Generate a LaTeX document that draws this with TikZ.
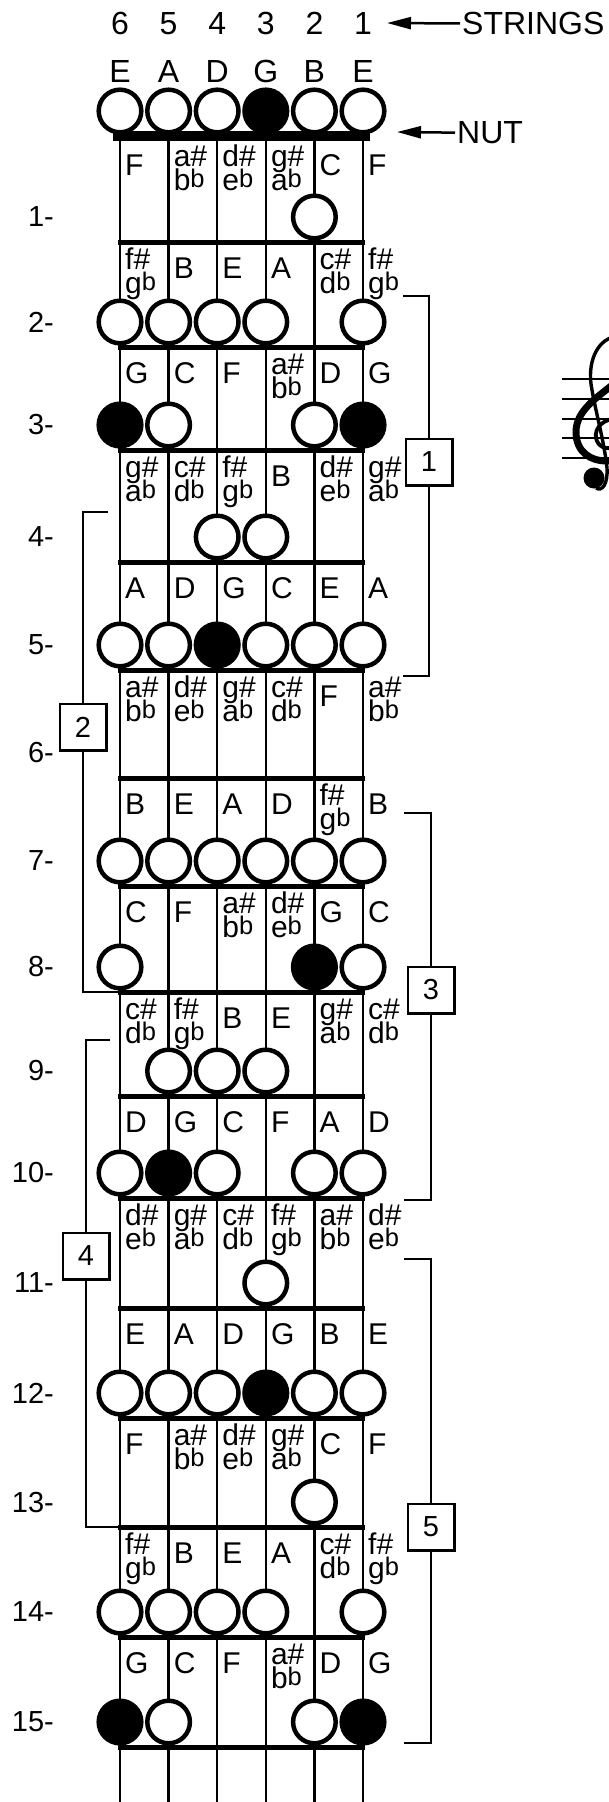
\documentclass[tikz,border=0pt]{standalone}
\usepackage{fontspec}
\setmainfont{Liberation Sans}
\usepackage{graphicx}
\usetikzlibrary{arrows.meta}

\def\fretlist{{136,242,347,450,562,670,778,886,992,1096,1198,1308,1418,1527,1637,1747}}
\newcommand\flatb{\raisebox{3pt}{\scalebox{0.85}{b}}}
\def\splitlab#1#2\nil{\def\la{#1}\def\lb{#2}}
\newcommand\twoline[2]{\vbox{\baselineskip=24pt\lineskiplimit=-100pt\lineskip=0pt\hbox{#1\#}\hbox{#2\flatb}}}

\tikzset{
  lab/.style={anchor=base west, inner sep=0pt, font=\fontsize{30}{32}\selectfont},
  num/.style={inner sep=0pt, font=\fontsize{29}{31}\selectfont},
  top/.style={inner sep=0pt, font=\fontsize{32}{34}\selectfont},
  gstring/.style={line width=2.5pt},
  fretline/.style={line width=5pt},
  hole/.style={circle, draw, line width=4.5pt, fill=white, minimum size=42.6pt, inner sep=0pt},
  blob/.style={circle, draw, line width=4.5pt, fill=black, minimum size=42.6pt, inner sep=0pt},
  brk/.style={line width=2.5pt},
  box/.style={draw, line width=2.5pt, fill=white, minimum size=46.5pt, inner sep=0pt, font=\fontsize{29}{31}\selectfont},
  ptr/.style={line width=2.5pt, -{Triangle[length=24pt,width=12pt]}},
}

\newcommand\fretrow[2]{%
  \foreach \t [count=\i] in {#2}{%
    \pgfmathtruncatemacro\sn{7-\i}%
    \pgfmathsetmacro\xx{363-(\sn-1)*48.6+5}%
    \pgfmathsetmacro\yb{\fretlist[#1-1]+(#1==1?5:2.5)}%
    \expandafter\splitlab\t\nil
    \ifx\lb\empty
      \node[lab] (n#1-\sn) at (\xx,\yb+34) {\la};
    \else
      \node[lab] (n#1-\sn) at (\xx,\yb+49) {\twoline{\la}{\lb}};
    \fi
  }%
}
\newcommand\mk[3]{%
  \pgfmathsetmacro\xx{363-(#2-1)*48.6}%
  \pgfmathsetmacro\yy{#1==0 ? 111 : \fretlist[#1]-25}%
  \node[#3] (c#1-#2) at (\xx,\yy) {};
}

\begin{document}
\begin{tikzpicture}[x=1pt,y=-1pt]
\useasboundingbox (0,0) rectangle (609,1802);
\fill[white] (0,0) rectangle (609,1802);

% strings
\foreach \s in {1,...,6}{
  \pgfmathsetmacro\xx{363-(\s-1)*48.6}
  \draw[gstring] (\xx,136) -- (\xx,1802);
}
% nut and frets
\draw[line width=10pt] (113,136) -- (370,136);
\foreach \f in {1,...,15}{
  \pgfmathsetmacro\yy{\fretlist[\f]}
  \draw[fretline] (118,\yy) -- (365,\yy);
}

% note labels in cells
\fretrow{1}{F,ab,de,ga,C,F}
\fretrow{2}{fg,B,E,A,cd,fg}
\fretrow{3}{G,C,F,ab,D,G}
\fretrow{4}{ga,cd,fg,B,de,ga}
\fretrow{5}{A,D,G,C,E,A}
\fretrow{6}{ab,de,ga,cd,F,ab}
\fretrow{7}{B,E,A,D,fg,B}
\fretrow{8}{C,F,ab,de,G,C}
\fretrow{9}{cd,fg,B,E,ga,cd}
\fretrow{10}{D,G,C,F,A,D}
\fretrow{11}{de,ga,cd,fg,ab,de}
\fretrow{12}{E,A,D,G,B,E}
\fretrow{13}{F,ab,de,ga,C,F}
\fretrow{14}{fg,B,E,A,cd,fg}
\fretrow{15}{G,C,F,ab,D,G}

% circles
\foreach \s in {6,5,4,2,1}{\mk{0}{\s}{hole}} \mk{0}{3}{blob}
\mk{1}{2}{hole}
\foreach \s in {6,5,4,3,1}{\mk{2}{\s}{hole}}
\mk{3}{6}{blob} \mk{3}{5}{hole} \mk{3}{2}{hole} \mk{3}{1}{blob}
\mk{4}{4}{hole} \mk{4}{3}{hole}
\foreach \s in {6,5,3,2,1}{\mk{5}{\s}{hole}} \mk{5}{4}{blob}
\foreach \s in {6,5,4,3,2,1}{\mk{7}{\s}{hole}}
\mk{8}{6}{hole} \mk{8}{2}{blob} \mk{8}{1}{hole}
\foreach \s in {5,4,3}{\mk{9}{\s}{hole}}
\mk{10}{6}{hole} \mk{10}{5}{blob} \mk{10}{4}{hole} \mk{10}{2}{hole} \mk{10}{1}{hole}
\mk{11}{3}{hole}
\foreach \s in {6,5,4,2,1}{\mk{12}{\s}{hole}} \mk{12}{3}{blob}
\mk{13}{2}{hole}
\foreach \s in {6,5,4,3,1}{\mk{14}{\s}{hole}}
\mk{15}{6}{blob} \mk{15}{5}{hole} \mk{15}{2}{hole} \mk{15}{1}{blob}

% fret numbers
\foreach \f in {1,...,15}{
  \pgfmathsetmacro\yy{\fretlist[\f]-25}
  \node[num, anchor=east] (fn\f) at (54,\yy) {\f-};
}

% top rows
\foreach \s/\n in {6/E,5/A,4/D,3/G,2/B,1/E}{
  \pgfmathsetmacro\xx{363-(\s-1)*48.6}
  \node[top, anchor=base] (sd\s) at (\xx,34.5) {\s};
  \node[top, anchor=base] (sn\s) at (\xx,82.5) {\n};
}
\node[top, anchor=base west] (strs) at (462,34.5) {STRINGS};
\coordinate (sa) at (387,23);
\draw[ptr] ([xshift=-2pt]strs.west) -- (sa);
\node[top, anchor=base west] (nutlab) at (457,143.5) {NUT};
\coordinate (na) at (397,132);
\draw[ptr] ([xshift=-2pt]nutlab.west) -- (na);

% position brackets
\node[box] (b1) at (429,462) {1};
\coordinate (b1t) at (403,296); \coordinate (b1b) at (403,676);
\draw[brk] (b1t) -| (b1); \draw[brk] (b1) |- (b1b);
\node[box] (b2) at (83,727) {2};
\coordinate (b2t) at (108,512); \coordinate (b2b) at (120,992);
\draw[brk] (b2t) -| (b2); \draw[brk] (b2) |- (b2b);
\node[box] (b3) at (431,990) {3};
\coordinate (b3t) at (404,813); \coordinate (b3b) at (404,1200);
\draw[brk] (b3t) -| (b3); \draw[brk] (b3) |- (b3b);
\node[box] (b4) at (86,1256) {4};
\coordinate (b4t) at (110,1040); \coordinate (b4b) at (120,1527);
\draw[brk] (b4t) -| (b4); \draw[brk] (b4) |- (b4b);
\node[box] (b5) at (431,1527) {5};
\coordinate (b5t) at (404,1259); \coordinate (b5b) at (404,1743);
\draw[brk] (b5t) -| (b5); \draw[brk] (b5) |- (b5b);

% treble clef (cut by the right edge)
\begin{scope}
\clip (540,330) rectangle (609,500);
\foreach \y in {379,399,419,438,458}{\draw[line width=2.2pt] (562,\y) -- (609,\y);}
\draw[line width=3.4pt] (618,336) .. controls (598,338) and (588,360) .. (591,384)
  .. controls (595,410) and (604,440) .. (607,468)
  .. controls (608,484) and (602,492) .. (596,488);
\fill (594,478) circle (10.5);
\draw[line width=7pt] (616,382) .. controls (598,397) and (576,410) .. (576,432)
  .. controls (576,453) and (592,461) .. (606,461)
  .. controls (614,461) and (620,457) .. (622,451);
\draw[line width=3.8pt] (620,419) .. controls (604,417) and (594,428) .. (596,438)
  .. controls (598,447) and (606,450) .. (614,447);
\end{scope}
\end{tikzpicture}
\end{document}
